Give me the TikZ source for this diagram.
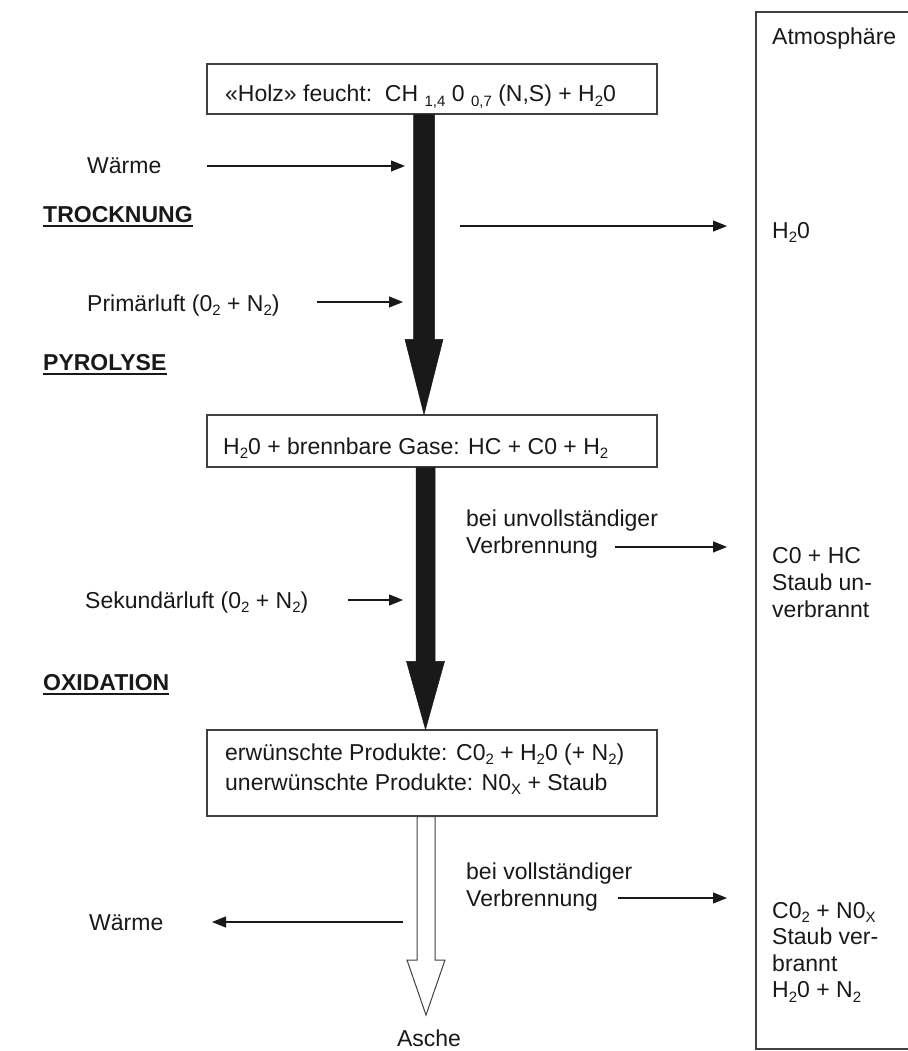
\documentclass[tikz,border=0pt]{standalone}
\usepackage{fontspec}
\setmainfont{Liberation Sans}
\usetikzlibrary{arrows.meta,calc}
\newcommand\lsub[1]{\raisebox{-0.2em}{\fontsize{15}{15}\selectfont #1}}
\tikzset{
 txt/.style={anchor=base west, inner sep=0pt, text=black!90, font=\fontsize{23}{27}\selectfont},
 hd/.style={anchor=base west, inner sep=0pt, text=black!90, font=\fontsize{23}{27}\selectfont\bfseries},
 box/.style={draw=black!75, line width=1.2pt, rectangle, inner sep=0pt},
 thinarr/.style={line width=1.1pt, draw=black!90, -{Triangle[length=14pt,width=11pt]}},
 fat/.style={fill=black!90, draw=black!90, line width=0.5pt},
 hollow/.style={fill=white, draw=black!75, line width=1pt},
 uline/.style={line width=1.8pt, draw=black!90},
}
\begin{document}
\begin{tikzpicture}[x=1pt,y=-1pt]
\useasboundingbox (0,0) rectangle (907,1051);
\fill[white] (0,0) rectangle (907,1051);

% boxes
\node[box, minimum width=450pt, minimum height=50pt] (topbox) at (432,89) {};
\node[box, minimum width=450pt, minimum height=52pt] (midbox) at (432,441) {};
\node[box, minimum width=450pt, minimum height=86pt] (botbox) at (432,773) {};

% box texts
\node[txt] (toptext) at (225,102) {«Holz» feucht:\ \ CH \lsub{1,4} 0 \lsub{0,7} (N,S) + H\lsub{2}0};
\node[txt] (midtext) at (223,454) {H\lsub{2}0 + brennbare Gase: HC + C0 + H\lsub{2}};
\node[txt] (bottext1) at (225,760) {erwünschte Produkte: C0\lsub{2} + H\lsub{2}0 (+ N\lsub{2})};
\node[txt] (bottext2) at (225,790) {unerwünschte Produkte: N0\lsub{X} + Staub};

% atmosphere box
\draw[line width=1.2pt, draw=black!75] (910,12) -- (756,12) -- (756,1049) -- (910,1049);
\node[txt] (atm) at (772,45) {Atmosphäre};

% axes for the thick arrows
\coordinate (ax1) at (424,0);
\coordinate (ax2) at (425.5,0);
\coordinate (ax3) at (426,0);
\path (ax1 |- topbox.south) coordinate (a1s) (ax1 |- midbox.north) coordinate (a1e);
\path (ax2 |- midbox.south) coordinate (a2s) (ax2 |- botbox.north) coordinate (a2e);
\path (ax3 |- botbox.south) coordinate (a3s);
\coordinate (a3e) at (426,1015);

\fill[fat] ($(a1s)+(-10.5,0)$) -- ($(a1s)+(10.5,0)$) -- ($(a1e)+(10.5,-75)$) -- ($(a1e)+(19,-75)$)
  -- (a1e) -- ($(a1e)+(-19,-75)$) -- ($(a1e)+(-10.5,-75)$) -- cycle;
\fill[fat] ($(a2s)+(-9.5,0)$) -- ($(a2s)+(9.5,0)$) -- ($(a2e)+(9.5,-68)$) -- ($(a2e)+(19,-68)$)
  -- (a2e) -- ($(a2e)+(-19,-68)$) -- ($(a2e)+(-9.5,-68)$) -- cycle;
\filldraw[hollow] ($(a3s)+(-9,0)$) -- ($(a3s)+(9,0)$) -- ($(a3e)+(9,-55)$) -- ($(a3e)+(19,-55)$)
  -- (a3e) -- ($(a3e)+(-19,-55)$) -- ($(a3e)+(-9,-55)$) -- cycle;
\node[txt, anchor=base] (asche) at (429,1046) {Asche};

% left labels and headings
\node[txt] (waerme1) at (87,174) {Wärme};
\node[hd] (trock) at (43,222) {TROCKNUNG};
\draw[uline] ($(trock.base west)+(0,4)$) -- ($(trock.base east)+(0,4)$);
\node[txt] (primaer) at (87,311) {Primärluft (0\lsub{2} + N\lsub{2})};
\node[hd] (pyro) at (43,370) {PYROLYSE};
\draw[uline] ($(pyro.base west)+(0,4)$) -- ($(pyro.base east)+(0,4)$);
\node[txt] (sekund) at (85,608) {Sekundärluft (0\lsub{2} + N\lsub{2})};
\node[hd] (oxid) at (43,690) {OXIDATION};
\draw[uline] ($(oxid.base west)+(0,4)$) -- ($(oxid.base east)+(0,4)$);
\node[txt] (waerme2) at (89,930) {Wärme};

% middle labels
\node[txt] (unv1) at (466,526) {bei unvollständiger};
\node[txt] (unv2) at (466,553) {Verbrennung};
\node[txt] (vol1) at (466,879) {bei vollständiger};
\node[txt] (vol2) at (466,906) {Verbrennung};

% right labels
\node[txt] (h2o) at (772,238) {H\lsub{2}0};
\node[txt] (r1a) at (772,563) {C0 + HC};
\node[txt] (r1b) at (772,590) {Staub un-};
\node[txt] (r1c) at (772,617) {verbrannt};
\node[txt] (r2a) at (772,918) {C0\lsub{2} + N0\lsub{X}};
\node[txt] (r2b) at (772,944.5) {Staub ver-};
\node[txt] (r2c) at (772,971) {brannt};
\node[txt] (r2d) at (772,997.5) {H\lsub{2}0 + N\lsub{2}};

% thin arrows
\coordinate (t1s) at (207,166);   \coordinate (t1e) at (405,166);
\coordinate (t2s) at (460,226);   \coordinate (t2e) at (727,226);
\coordinate (t3s) at (317,302);   \coordinate (t3e) at (403,302);
\coordinate (t4s) at (615,547);   \coordinate (t4e) at (727,547);
\coordinate (t5s) at (348,600);   \coordinate (t5e) at (403,600);
\coordinate (t6s) at (618,898);   \coordinate (t6e) at (727,898);
\coordinate (t7s) at (403,922);   \coordinate (t7e) at (212,922);
\draw[thinarr] (t1s) -- (t1e);
\draw[thinarr] (t2s) -- (t2e);
\draw[thinarr] (t3s) -- (t3e);
\draw[thinarr] (t4s) -- (t4e);
\draw[thinarr] (t5s) -- (t5e);
\draw[thinarr] (t6s) -- (t6e);
\draw[thinarr] (t7s) -- (t7e);
\end{tikzpicture}
\end{document}
